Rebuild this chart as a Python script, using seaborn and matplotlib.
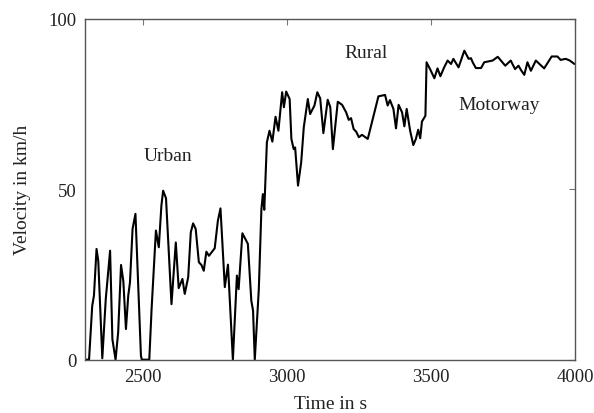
import matplotlib
matplotlib.use("Agg")
import matplotlib.pyplot as plt
import seaborn as sns
import pandas as pd

time_s = [2303, 2313, 2324, 2330, 2339, 2345, 2359, 2371, 2386, 2394, 2405, 2414, 2424, 2432,
          2441, 2449, 2455, 2464, 2474, 2493, 2496, 2522, 2530, 2545, 2555, 2564, 2570, 2580,
          2599, 2614, 2624, 2637, 2645, 2657, 2666, 2674, 2683, 2694, 2703, 2711, 2720, 2729,
          2749, 2760, 2769, 2784, 2795, 2812, 2826, 2832, 2845, 2864, 2876, 2882, 2888, 2902,
          2911, 2916, 2921, 2930, 2939, 2949, 2960, 2970, 2983, 2989, 2997, 3009, 3015, 3023,
          3028, 3038, 3049, 3058, 3072, 3080, 3095, 3105, 3115, 3126, 3141, 3150, 3159, 3176,
          3191, 3205, 3214, 3222, 3231, 3240, 3249, 3260, 3280, 3297, 3317, 3340, 3349, 3357,
          3369, 3378, 3387, 3399, 3407, 3415, 3427, 3438, 3447, 3455, 3462, 3468, 3480, 3484,
          3499, 3511, 3522, 3532, 3545, 3557, 3569, 3577, 3595, 3615, 3630, 3638, 3644, 3655,
          3673, 3684, 3713, 3731, 3757, 3776, 3791, 3803, 3811, 3823, 3834, 3846, 3863, 3892,
          3918, 3938, 3949, 3967, 3981, 3997]
velocity_kmh = [0, 0, 15.8, 18.8, 32.5, 29, 0.4, 17.8, 32, 6, 0, 8, 27.8, 23,
                9, 18.8, 22.7, 38.4, 42.8, 1.2, 0, 0, 14.9, 37.9, 33, 45.2, 49.6, 47.4,
                16.3, 34.4, 21, 23.7, 19.3, 24.2, 37.4, 40, 38.4, 28.6, 27.8, 26.1, 31.7, 30.5,
                32.7, 40.8, 44.4, 21.3, 27.9, 0, 24.7, 20.7, 37.1, 34, 17.3, 14.4, 0, 20.7,
                44.2, 48.6, 44, 63.8, 67.2, 64, 71.3, 67.2, 78.5, 74.1, 78.7, 76.5, 64.8, 61.8,
                62.3, 51.1, 57.9, 68.2, 76.5, 72.1, 74.6, 78.5, 76.7, 66.5, 76.3, 74.1, 61.8, 75.7,
                74.8, 72.6, 70.4, 70.9, 67.7, 66.9, 65.3, 66, 64.8, 70.6, 77.3, 77.7, 74.6, 76.2,
                73.6, 67.9, 74.8, 72.6, 68.5, 73.6, 67.2, 63, 64.8, 67.5, 65, 69.9, 71.6, 87.3,
                84.8, 82.6, 85.5, 83.2, 85.8, 87.8, 86.8, 88.3, 85.8, 90.7, 88.3, 88.5, 87.3, 85.6,
                85.6, 87.3, 87.8, 88.9, 86.3, 87.8, 85.3, 86.3, 85.1, 83.6, 87.3, 84.8, 87.8, 85.5,
                89, 89, 88, 88.3, 87.8, 86.8]

region_labels = ["Urban", "Rural", "Motorway"]
region_x = [2586, 3274, 3736]
region_y = [59.8, 90.3, 74.8]

x_ticks = [2500, 3000, 3500, 4000]
y_ticks = [0, 50, 100]

sns.set_theme(style="white")
plt.rcParams["font.family"] = ["Liberation Serif", "DejaVu Serif"]

df = pd.DataFrame({"Time in s": time_s, "Velocity in km/h": velocity_kmh})

fig = plt.figure(figsize=(5.94, 4.14), dpi=100)
ax = fig.add_axes([0.1436, 0.1288, 0.8249, 0.8229])
sns.lineplot(data=df, x="Time in s", y="Velocity in km/h", ax=ax,
             color="black", linewidth=1.5)

for lab, xx, yy in zip(region_labels, region_x, region_y):
    ax.text(xx, yy, lab, ha="center", va="center", fontsize=14, color="#222222")

ax.set_xlim(2300, 4000)
ax.set_ylim(0, 100)
ax.set_xticks(x_ticks)
ax.set_yticks(y_ticks)
ax.tick_params(direction="in", length=4, width=0.8, color="#777777",
               top=True, right=True, labelsize=13.5, labelcolor="#222222", pad=6)
for s in ax.spines.values():
    s.set_color("#555555")
    s.set_linewidth(1.0)
ax.set_xlabel("Time in s", fontsize=14, color="#222222", labelpad=7)
ax.set_ylabel("Velocity in km/h", fontsize=14, color="#222222", labelpad=13)

fig.savefig("out.png", dpi=100)
